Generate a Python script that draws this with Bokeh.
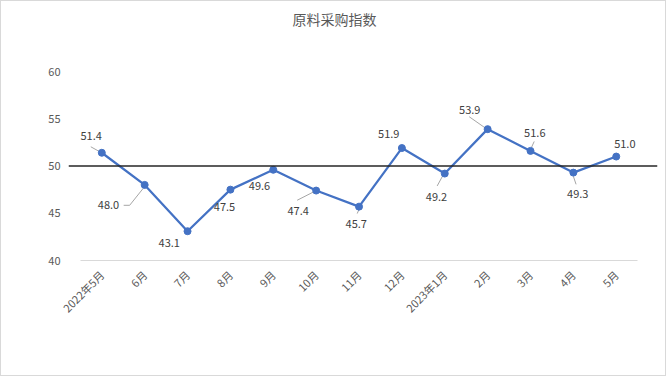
import math
from bokeh.plotting import figure
from bokeh.models import Range1d, FixedTicker, ColumnDataSource, Span, Label
from bokeh.core.properties import value
from bokeh.embed import file_html
from bokeh.resources import INLINE

# ---------------- data ----------------
months = ["2022年5月", "6月", "7月", "8月", "9月", "10月", "11月", "12月",
          "2023年1月", "2月", "3月", "4月", "5月"]
index_values = [51.4, 48.0, 43.1, 47.5, 49.6, 47.4, 45.7, 51.9, 49.2, 53.9, 51.6, 49.3, 51.0]
y_ticks = [40, 45, 50, 55, 60]
threshold = 50
title_text = "原料采购指数"

# ---------------- styles (pixel offsets of data labels, screen px, down positive) ----------------
label_dx = [-10.6, -36.2, -18.3, -5.9, -13.8, -18.0, -2.8, -13.1, -8.3, -17.9, 4.3, 4.4, 8.6]
label_dy = [-16.5, 20.4, 12.0, 17.6, 16.5, 20.4, 17.6, -13.7, 23.4, -19.5, -18.3, 21.0, -12.2]
# leader lines: (point index, start dx, start dy, end dx, end dy) in screen px
leaders = [
    (0, -11.0, -6.0, -2.0, -1.0),
    (1, -21.0, 20.4, -15.0, 20.4),
    (1, -15.0, 20.4, -1.5, 3.5),
    (5, -19.0, 9.7, -2.7, 1.4),
    (6, -1.8, 6.9, 0.3, 2.0),
    (8, -7.6, 12.4, -2.3, 2.7),
    (9, -18.4, -12.4, -2.7, -1.4),
    (10, 3.7, -9.4, 1.1, -3.7),
    (11, 0.0, 3.7, 2.7, 11.7),
]

FONT = "Noto Sans CJK SC"
W, H = 666, 376
LEFT, RIGHT, TOP, BOTTOM = 67, 10, 4, 117
PX_X = 42.87   # px per category
PX_Y = 9.45    # px per index unit
FIRST_X = 33.3 # px from frame left to first category
frame_w = W - LEFT - RIGHT
frame_h = H - TOP - BOTTOM
x_start = -FIRST_X / PX_X
x_end = x_start + frame_w / PX_X
y_start = y_ticks[0]
y_end = y_start + frame_h / PX_Y

n = len(months)
xs = list(range(n))
src = ColumnDataSource(dict(
    x=xs, y=index_values,
    lbl=[f"{v:.1f}" for v in index_values],
    dx=label_dx, dy=label_dy,
))

p = figure(width=W, height=H, output_backend="svg", toolbar_location=None,
           x_range=Range1d(x_start, x_end), y_range=Range1d(y_start, y_end),
           min_border=0)
p.min_border_left = LEFT
p.min_border_right = RIGHT
p.min_border_top = TOP
p.min_border_bottom = BOTTOM
p.styles = {"border": "1px solid #d9d9d9"}
p.outline_line_color = None
p.background_fill_color = "white"
p.border_fill_color = "white"
p.xgrid.visible = False
p.ygrid.visible = False

# axes
p.yaxis.ticker = FixedTicker(ticks=y_ticks)
p.yaxis.axis_line_color = None
p.yaxis.major_tick_line_color = None
p.yaxis.minor_tick_line_color = None
p.yaxis.major_label_standoff = 2
p.yaxis.major_label_text_font = FONT
p.yaxis.major_label_text_font_size = "11px"
p.yaxis.major_label_text_color = "#595959"

p.xaxis.ticker = FixedTicker(ticks=xs)
p.xaxis.major_label_overrides = {i: m for i, m in enumerate(months)}
p.xaxis.bounds = (-0.5, n - 0.5)
p.xaxis.axis_line_color = "#d9d9d9"
p.xaxis.axis_line_width = 1
p.xaxis.major_tick_line_color = None
p.xaxis.minor_tick_line_color = None
p.xaxis.major_label_orientation = math.pi / 4
p.xaxis.major_label_standoff = 6
p.xaxis.major_label_text_font = FONT
p.xaxis.major_label_text_font_size = "11px"
p.xaxis.major_label_text_color = "#595959"

# threshold line
p.add_layout(Span(location=threshold, dimension="width", line_color="#262626", line_width=1.5))

# leader lines
lx0, ly0, lx1, ly1 = [], [], [], []
for i, sdx, sdy, edx, edy in leaders:
    lx0.append(xs[i] + sdx / PX_X)
    ly0.append(index_values[i] - sdy / PX_Y)
    lx1.append(xs[i] + edx / PX_X)
    ly1.append(index_values[i] - edy / PX_Y)
p.segment(x0=lx0, y0=ly0, x1=lx1, y1=ly1, line_color="#a6a6a6", line_width=1)

# series
p.line("x", "y", source=src, line_color="#4472C4", line_width=2.25)
p.scatter("x", "y", source=src, size=7, fill_color="#4472C4", line_color="#4472C4")

# data labels
p.text("x", "y", text="lbl", source=src, x_offset="dx", y_offset="dy",
       text_align="center", text_baseline="middle",
       text_font=value(FONT), text_font_size="11px", text_color="#404040")

# title
p.add_layout(Label(x=334 - 1 - LEFT, y=(H - TOP - BOTTOM) + TOP - 17,
                   x_units="screen", y_units="screen", text=title_text,
                   text_align="center", text_baseline="middle",
                   text_font=FONT, text_font_size="14px", text_color="#595959"))

open("out.html", "w").write(file_html(p, INLINE))
